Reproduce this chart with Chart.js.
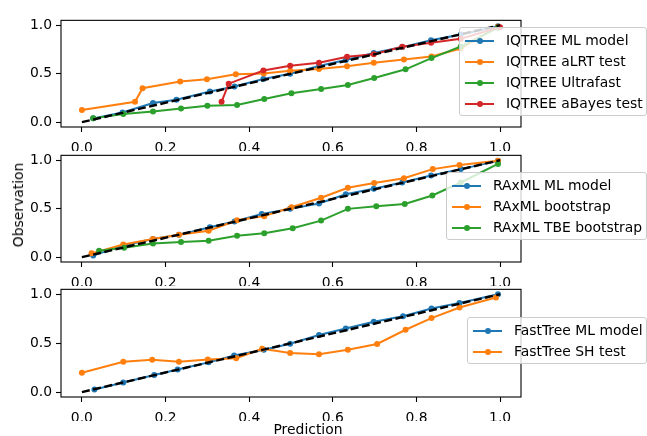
<!DOCTYPE html>
<html>
<head>
<meta charset="utf-8">
<script src="https://cdn.jsdelivr.net/npm/chart.js@4"></script>
<style>
  body { margin: 0; background: #fff; font-family: "DejaVu Sans", sans-serif; }
  #fig { position: relative; width: 647px; height: 436px; overflow: hidden; }
  .panel { position: absolute; left: 0; width: 647px; }
  .legend {
    position: absolute; background: rgba(255,255,255,0.8);
    border: 1px solid #cccccc; border-radius: 3px; box-sizing: border-box;
    font-size: 13.9px; color: #000;
  }
  .legend .row { position: absolute; left: 0; height: 21px; line-height: 21px; white-space: nowrap; }
  .legend .line { position: absolute; left: 5px; top: 9.5px; width: 29px; height: 2px; }
  .legend .dot { position: absolute; left: 16.5px; top: 7.5px; width: 6px; height: 6px; border-radius: 50%; }
  .legend .txt { position: absolute; left: 46px; top: 0; }
  .axlabel { position: absolute; font-size: 13.9px; color: #000; white-space: nowrap; }
</style>
</head>
<body>
<div id="fig">
  <div class="panel" id="p1"><canvas id="c1"></canvas></div>
  <div class="panel" id="p2"><canvas id="c2"></canvas></div>
  <div class="panel" id="p3"><canvas id="c3"></canvas></div>
  <div class="axlabel" style="left:18px; top:205px; transform: translate(-50%,-50%) rotate(-90deg);">Observation</div>
  <div class="axlabel" style="left:308px; top:429px; transform: translate(-50%,-50%);">Prediction</div>
</div>
<script>
// IQTREE panel
const iqMlX = [0.027, 0.097, 0.170, 0.226, 0.306, 0.365, 0.434, 0.498, 0.567, 0.631, 0.698, 0.766, 0.835, 0.906, 0.995];
const iqMlY = [0.039, 0.100, 0.197, 0.232, 0.316, 0.368, 0.445, 0.500, 0.580, 0.642, 0.713, 0.774, 0.845, 0.903, 0.990];
const iqAlrtX = [0.0, 0.127, 0.145, 0.235, 0.299, 0.368, 0.435, 0.498, 0.567, 0.634, 0.698, 0.770, 0.836, 0.906, 0.995];
const iqAlrtY = [0.126, 0.210, 0.350, 0.420, 0.442, 0.493, 0.503, 0.529, 0.548, 0.577, 0.613, 0.645, 0.677, 0.760, 0.985];
const iqUfX = [0.027, 0.099, 0.170, 0.237, 0.300, 0.371, 0.436, 0.501, 0.572, 0.636, 0.699, 0.774, 0.836, 0.906, 0.995];
const iqUfY = [0.039, 0.084, 0.110, 0.142, 0.168, 0.177, 0.239, 0.297, 0.342, 0.384, 0.455, 0.545, 0.661, 0.780, 0.974];
const iqAbX = [0.334, 0.351, 0.434, 0.498, 0.567, 0.634, 0.698, 0.766, 0.835, 0.906, 1.0];
const iqAbY = [0.210, 0.397, 0.532, 0.581, 0.613, 0.674, 0.700, 0.777, 0.819, 0.861, 0.980];

// RAxML panel
const rxMlX = [0.027, 0.099, 0.170, 0.232, 0.306, 0.365, 0.430, 0.498, 0.567, 0.631, 0.698, 0.766, 0.835, 0.906, 0.995];
const rxMlY = [0.016, 0.121, 0.187, 0.230, 0.308, 0.367, 0.446, 0.498, 0.554, 0.649, 0.705, 0.770, 0.843, 0.908, 0.993];
const rxBsX = [0.023, 0.099, 0.170, 0.232, 0.303, 0.371, 0.436, 0.501, 0.572, 0.636, 0.699, 0.770, 0.839, 0.903, 0.995];
const rxBsY = [0.039, 0.131, 0.187, 0.230, 0.272, 0.380, 0.423, 0.515, 0.613, 0.715, 0.764, 0.813, 0.908, 0.951, 0.993];
const rxTbeX = [0.041, 0.101, 0.170, 0.237, 0.303, 0.371, 0.436, 0.504, 0.572, 0.636, 0.704, 0.772, 0.838, 0.906, 0.995];
const rxTbeY = [0.066, 0.098, 0.141, 0.157, 0.170, 0.220, 0.246, 0.298, 0.377, 0.498, 0.525, 0.548, 0.636, 0.770, 0.961];

// FastTree panel
const ftMlX = [0.030, 0.099, 0.173, 0.229, 0.303, 0.364, 0.435, 0.498, 0.567, 0.631, 0.698, 0.768, 0.836, 0.903, 0.995];
const ftMlY = [0.026, 0.099, 0.175, 0.231, 0.304, 0.373, 0.432, 0.495, 0.584, 0.650, 0.719, 0.776, 0.855, 0.911, 1.0];
const ftShX = [0.0, 0.099, 0.168, 0.232, 0.301, 0.369, 0.431, 0.498, 0.567, 0.636, 0.706, 0.774, 0.836, 0.903, 0.990];
const ftShY = [0.198, 0.310, 0.330, 0.310, 0.333, 0.347, 0.442, 0.399, 0.386, 0.432, 0.492, 0.637, 0.756, 0.865, 0.967];

const diagX = [0, 1];
const diagY = [0, 1];
const xTicks = [0, 0.2, 0.4, 0.6, 0.8, 1.0];
const yTicks = [0, 0.5, 1.0];

const blue = '#1f77b4', orange = '#ff7f0e', green = '#2ca02c', red = '#d62728';

Chart.defaults.font.family = '"DejaVu Sans", sans-serif';
Chart.defaults.font.size = 13.9;
Chart.defaults.color = '#000';

function pts(xs, ys) {
    return xs.map((x, i) => ({ x: x, y: ys[i] }));
}

// box around the plot area, like matplotlib spines
const frame = {
    id: 'frame',
    afterDraw(chart) {
        const a = chart.chartArea, c = chart.ctx;
        c.save();
        c.strokeStyle = '#000';
        c.lineWidth = 1.1;
        c.strokeRect(a.left, a.top, a.right - a.left, a.bottom - a.top);
        c.restore();
    }
};

const PAD_TOP = 8, XAX_H = 24;

function makePanel(n, top, height, series) {
    const box = document.getElementById('p' + n);
    box.style.top = (top - PAD_TOP) + 'px';
    box.style.height = (height + PAD_TOP + XAX_H + 8) + 'px';

    const datasets = series.map((s, i) => ({
        label: s.label,
        data: pts(s.x, s.y),
        borderColor: s.color,
        backgroundColor: s.color,
        borderWidth: 2,
        pointRadius: 3,
        pointBorderWidth: 0,
        pointBackgroundColor: s.color,
        order: 10 - i
    }));
    datasets.push({
        label: 'diag',
        data: pts(diagX, diagY),
        borderColor: '#000',
        borderWidth: 2.4,
        borderDash: [8, 3.5],
        pointRadius: 0,
        order: 0
    });

    const tickGrid = { drawOnChartArea: false, drawTicks: true, tickLength: 5, tickColor: '#000', tickWidth: 1.1 };

    return new Chart(document.getElementById('c' + n), {
        type: 'line',
        data: { datasets: datasets },
        options: {
            responsive: true,
            maintainAspectRatio: false,
            animation: false,
            events: [],
            layout: { padding: { top: PAD_TOP, right: 126, left: 0, bottom: 8 } },
            plugins: { legend: { display: false }, tooltip: { enabled: false } },
            scales: {
                x: {
                    type: 'linear', min: -0.05, max: 1.05,
                    grid: tickGrid,
                    border: { display: false },
                    afterBuildTicks: s => { s.ticks = xTicks.map(v => ({ value: v })); },
                    ticks: { callback: v => v.toFixed(1), maxRotation: 0, autoSkip: false, padding: 8 },
                    afterFit: s => { s.height = XAX_H; }
                },
                y: {
                    type: 'linear', min: -0.05, max: 1.05,
                    grid: tickGrid,
                    border: { display: false },
                    afterBuildTicks: s => { s.ticks = yTicks.map(v => ({ value: v })); },
                    ticks: { callback: v => v.toFixed(1), autoSkip: false, padding: 4 },
                    afterFit: s => { s.width = 61; }
                }
            }
        },
        plugins: [frame]
    });
}

function makeLegend(left, top, rows, series) {
    const lg = document.createElement('div');
    lg.className = 'legend';
    lg.style.left = left + 'px';
    lg.style.top = top + 'px';
    lg.style.width = (647 - left) + 'px';
    lg.style.height = (series.length * 21 + 5) + 'px';
    series.forEach((s, i) => {
        const r = document.createElement('div');
        r.className = 'row';
        r.style.top = (rows + i * 21) + 'px';
        r.innerHTML = '<div class="line" style="background:' + s.color + '"></div>' +
            '<div class="dot" style="background:' + s.color + '"></div>' +
            '<div class="txt">' + s.label + '</div>';
        lg.appendChild(r);
    });
    document.getElementById('fig').appendChild(lg);
}

const iqSeries = [
    { label: 'IQTREE ML model', x: iqMlX, y: iqMlY, color: blue },
    { label: 'IQTREE aLRT test', x: iqAlrtX, y: iqAlrtY, color: orange },
    { label: 'IQTREE Ultrafast', x: iqUfX, y: iqUfY, color: green },
    { label: 'IQTREE aBayes test', x: iqAbX, y: iqAbY, color: red }
];
const rxSeries = [
    { label: 'RAxML ML model', x: rxMlX, y: rxMlY, color: blue },
    { label: 'RAxML bootstrap', x: rxBsX, y: rxBsY, color: orange },
    { label: 'RAxML TBE bootstrap', x: rxTbeX, y: rxTbeY, color: green }
];
const ftSeries = [
    { label: 'FastTree ML model', x: ftMlX, y: ftMlY, color: blue },
    { label: 'FastTree SH test', x: ftShX, y: ftShY, color: orange }
];

makePanel(1, 16, 111, iqSeries);
makePanel(2, 151, 111, rxSeries);
makePanel(3, 285, 112, ftSeries);

makeLegend(459, 27, 2, iqSeries);
makeLegend(446, 172, 2, rxSeries);
makeLegend(467, 317, 2, ftSeries);
</script>
</body>
</html>
